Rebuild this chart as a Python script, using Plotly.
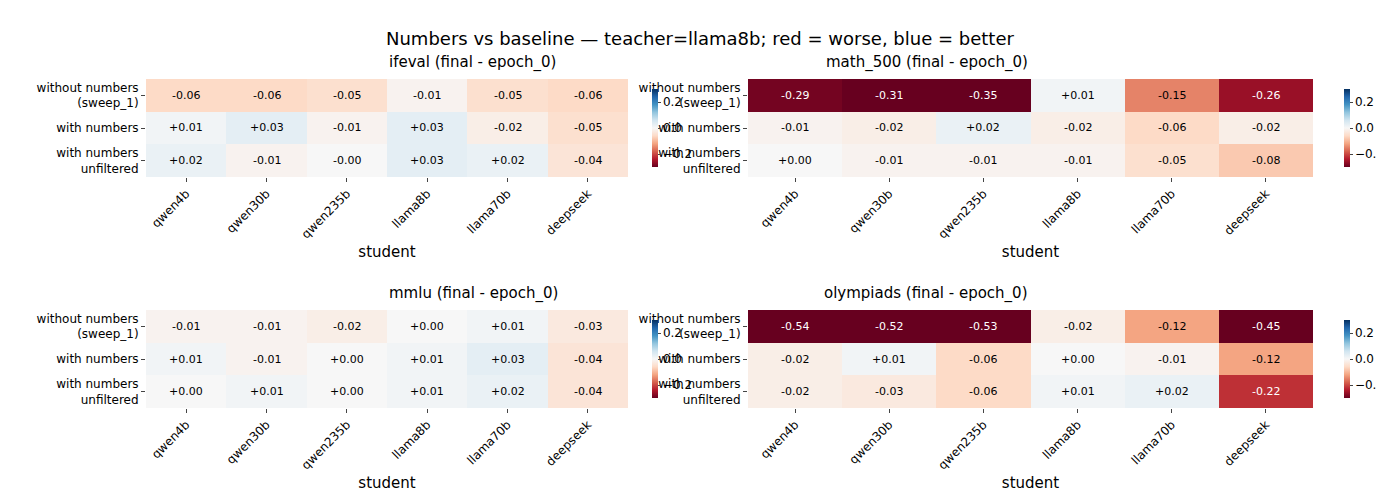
import plotly.graph_objects as go

students = ["qwen4b", "qwen30b", "qwen235b", "llama8b", "llama70b", "deepseek"]
conditions = ["without numbers<br>(sweep_1)", "with numbers", "with numbers<br>unfiltered"]

ifeval = [[-0.06, -0.06, -0.05, -0.01, -0.05, -0.06],
          [0.01, 0.03, -0.01, 0.03, -0.02, -0.05],
          [0.02, -0.01, -0.00, 0.03, 0.02, -0.04]]
math_500 = [[-0.29, -0.31, -0.35, 0.01, -0.15, -0.26],
            [-0.01, -0.02, 0.02, -0.02, -0.06, -0.02],
            [0.00, -0.01, -0.01, -0.01, -0.05, -0.08]]
mmlu = [[-0.01, -0.01, -0.02, 0.00, 0.01, -0.03],
        [0.01, -0.01, 0.00, 0.01, 0.03, -0.04],
        [0.00, 0.01, 0.00, 0.01, 0.02, -0.04]]
olympiads = [[-0.54, -0.52, -0.53, -0.02, -0.12, -0.45],
             [-0.02, 0.01, -0.06, 0.00, -0.01, -0.12],
             [-0.02, -0.03, -0.06, 0.01, 0.02, -0.22]]

panels = [("ifeval", ifeval), ("math_500", math_500), ("mmlu", mmlu), ("olympiads", olympiads)]

rdbu = ['#67001f', '#b2182b', '#d6604d', '#f4a582', '#fddbc7', '#f7f7f7',
        '#d1e5f0', '#92c5de', '#4393c3', '#2166ac', '#053061']
scale = [[i / 10, c] for i, c in enumerate(rdbu)]

W, H = 1384, 504
xdoms = [(138 / W, 620 / W), (740 / W, 1305 / W)]
cbx = [634 / W, 1326 / W]
ydoms = [(1 - 169 / H, 1 - 71 / H), (1 - 400 / H, 1 - 302 / H)]

fig = go.Figure()
annotations = []
for i, (name, z) in enumerate(panels):
    r, c = divmod(i, 2)
    n = i + 1
    sfx = "" if n == 1 else str(n)
    fig.add_trace(go.Heatmap(
        z=z, x=students, y=conditions, coloraxis="coloraxis" + sfx,
        xaxis="x" + sfx, yaxis="y" + sfx, hoverinfo="skip"))
    # cell labels
    for yi, row in enumerate(z):
        for xi, v in enumerate(row):
            s = f"{v:+.2f}" if not (v == 0 and name == "ifeval" and xi == 2) else "-0.00"
            annotations.append(dict(x=students[xi], y=conditions[yi], xref="x" + sfx, yref="y" + sfx,
                                    text=s, showarrow=False,
                                    font=dict(size=11, color="white" if abs(v) > 0.2 else "black")))
    fig.update_layout(**{
        "coloraxis" + sfx: dict(colorscale=scale, cmin=-0.3, cmax=0.3,
                                colorbar=dict(x=cbx[c], xanchor="left", y=sum(ydoms[r]) / 2,
                                              len=ydoms[r][1] - ydoms[r][0], thickness=6,
                                              outlinewidth=0, tickvals=[-0.2, 0, 0.2],
                                              ticktext=["\u22120.2", "0.0", "0.2"],
                                              ticks="outside", ticklen=3, tickfont=dict(size=12))),
        "xaxis" + sfx: dict(domain=xdoms[c], anchor="y" + sfx, tickangle=-45, ticks="outside",
                            ticklen=4, tickfont=dict(size=12), showgrid=False,
                            title=dict(text="student", font=dict(size=15), standoff=6)),
        "yaxis" + sfx: dict(domain=ydoms[r], anchor="x" + sfx, autorange="reversed", ticks="outside",
                            ticklen=4, tickfont=dict(size=12), showgrid=False),
    })
    annotations.append(dict(x=sum(xdoms[c]) / 2, y=ydoms[r][1] + 0.01, xref="paper", yref="paper",
                            text=f"{name} (final - epoch_0)", showarrow=False, yanchor="bottom",
                            font=dict(size=15, color="black")))

annotations.append(dict(x=0.5, y=1 - 18 / H, xref="paper", yref="paper", showarrow=False,
                        text="Numbers vs baseline \u2014 teacher=llama8b; red = worse, blue = better",
                        font=dict(size=18, color="black")))

fig.update_layout(width=W, height=H, margin=dict(l=0, r=0, t=0, b=0, autoexpand=False),
                  plot_bgcolor="white", paper_bgcolor="white",
                  font=dict(family="DejaVu Sans", color="black"),
                  annotations=annotations)
fig.write_html("out.html")
